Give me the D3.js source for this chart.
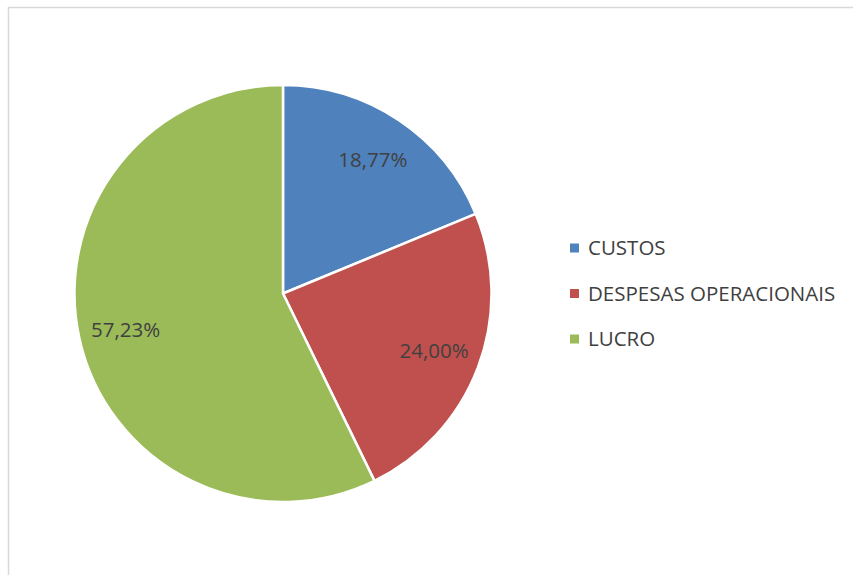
<!DOCTYPE html>
<html><head><meta charset="utf-8">
<script src="https://cdn.jsdelivr.net/npm/d3@7"></script>
<style>body{margin:0;background:#fff;} svg{display:block;}</style>
</head><body>
<svg id="c" width="853" height="575"></svg>
<script>
const categories = ["CUSTOS", "DESPESAS OPERACIONAIS", "LUCRO"];
const values = [18.77, 24.00, 57.23];
const labels = ["18,77%", "24,00%", "57,23%"];
const colors = ["#4F81BD", "#C0504D", "#9BBB59"];

const svg = d3.select("#c");
svg.append("rect").attr("x", 8.5).attr("y", 7.5).attr("width", 860).attr("height", 600)
  .attr("fill", "#fff").attr("stroke", "#d9d9d9").attr("stroke-width", 1.5);

const cx = 283, cy = 293.5, r = 208.5;
const data = categories.map((c, i) => ({c, v: values[i], l: labels[i], col: colors[i]}));
const pie = d3.pie().sort(null).value(d => d.v);
const arc = d3.arc().innerRadius(0).outerRadius(r);
const labArc = d3.arc().innerRadius(r * 0.775).outerRadius(r * 0.775);
const g = svg.append("g").attr("transform", `translate(${cx},${cy})`);
const arcs = pie(data);
g.selectAll("path").data(arcs).join("path")
  .attr("d", arc).attr("fill", d => d.data.col)
  .attr("stroke", "#fff").attr("stroke-width", 2.5).attr("stroke-linejoin", "round");
g.selectAll("text").data(arcs).join("text")
  .attr("transform", d => `translate(${labArc.centroid(d)})`)
  .attr("text-anchor", "middle").attr("dy", "0.36em")
  .style("font-family", "'Open Sans', sans-serif").style("font-size", "20.5px")
  .attr("fill", "#404040").text(d => d.data.l);

const lg = svg.append("g");
const ly = d3.scalePoint().domain(categories).range([248, 339]);
categories.forEach((c, i) => {
  lg.append("rect").attr("x", 570).attr("y", ly(c) - 4.5).attr("width", 9).attr("height", 9).attr("fill", colors[i]);
  lg.append("text").attr("x", 588).attr("y", ly(c)).attr("dy", "0.36em")
    .style("font-family", "'Open Sans', sans-serif").style("font-size", "20.5px")
    .attr("fill", "#404040").text(c);
});
</script>
</body></html>
